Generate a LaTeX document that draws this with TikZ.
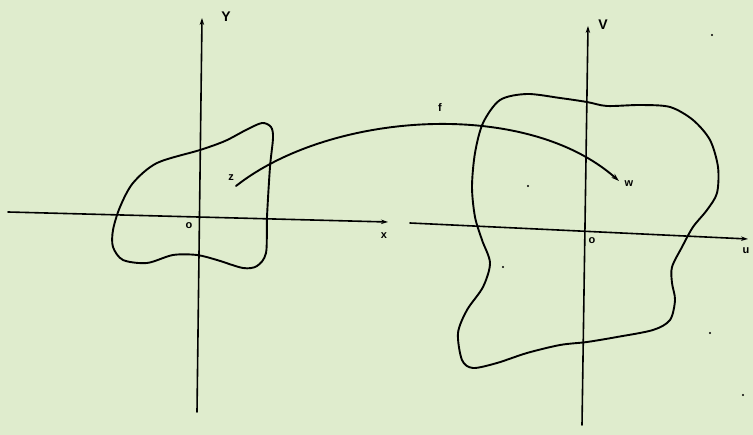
\documentclass[tikz,border=0pt]{standalone}
\usepackage{fontspec}
\setmainfont{Liberation Sans}
\usetikzlibrary{arrows.meta}
\definecolor{paper}{RGB}{223,236,205}
\tikzset{
  ink/.style={line width=1.9pt, black, line join=round, line cap=round},
  axis/.style={ink, line width=1.6pt, -{Stealth[length=7pt,width=4.5pt]}},
  big/.style={inner sep=0pt, font=\fontsize{14}{14}\selectfont\bfseries},
  small/.style={inner sep=0pt, font=\fontsize{11}{11}\selectfont\bfseries},
  speck/.style={fill=black, circle, inner sep=0pt, minimum size=2.4pt}
}
\begin{document}
\begin{tikzpicture}[x=1pt,y=-1pt]
\fill[paper] (0,0) rectangle (753,435);
\useasboundingbox (0,0) rectangle (753,435);
% left plane
\coordinate (yb) at (197,412); \coordinate (yt) at (202,18);
\coordinate (xl) at (8,212);   \coordinate (xr) at (388,222);
\draw[axis] (yb) -- (yt);
\draw[axis] (xl) -- (xr);
\node[big] (Y) at (226,17) {Y};
\node[small] (x) at (384,236) {x};
\node[small] (o1) at (189,226) {o};
\draw[ink] plot[smooth cycle, tension=0.5] coordinates {
 (133,183) (157,163) (200,150) (225,141) (246,130) (262,123) (271,127) (273,138)
 (270,167) (267,217) (266,253) (257,266) (243,268) (217,260) (197,255) (173,255)
 (147,263) (123,260) (113,247) (113,230) (120,207)};
% right plane
\coordinate (vb) at (582,425); \coordinate (vt) at (588,26);
\coordinate (ul) at (410,223); \coordinate (ur) at (748,239);
\draw[axis] (vb) -- (vt);
\draw[axis] (ul) -- (ur);
\node[big] (V) at (603,25) {V};
\node[small] (u) at (746,251) {u};
\node[small] (o2) at (592,241) {o};
\draw[ink] plot[smooth cycle, tension=0.5] coordinates {
 (483,123) (500,100) (527,94) (560,98) (587,102) (607,106) (640,105) (670,107)
 (693,120) (710,140) (718,167) (717,193) (707,210) (693,227) (682,247) (672,267)
 (672,283) (675,300) (670,320) (653,330) (617,337) (587,342) (560,345) (527,353)
 (497,363) (473,368) (462,360) (458,333) (467,310) (483,287) (490,263) (482,240)
 (475,217) (472,187) (475,153)};
% mapping f
\node[small] (z) at (231,178) {z};
\node[small] (w) at (629,184) {w};
\node[small] (f) at (440,108) {f};
\coordinate (zs) at (236,186);
\coordinate (wt) at (619,181);
\draw[ink, -{Stealth[length=8pt,width=5pt]}] (zs) .. controls (330,112) and (525,98) .. (wt);
% specks
\node[speck] (s1) at (528,186) {};
\node[speck] (s2) at (503,267) {};
\node[speck] (s3) at (710,333) {};
\node[speck] (s4) at (712,35) {};
\node[speck] (s5) at (743,395) {};
\end{tikzpicture}
\end{document}
